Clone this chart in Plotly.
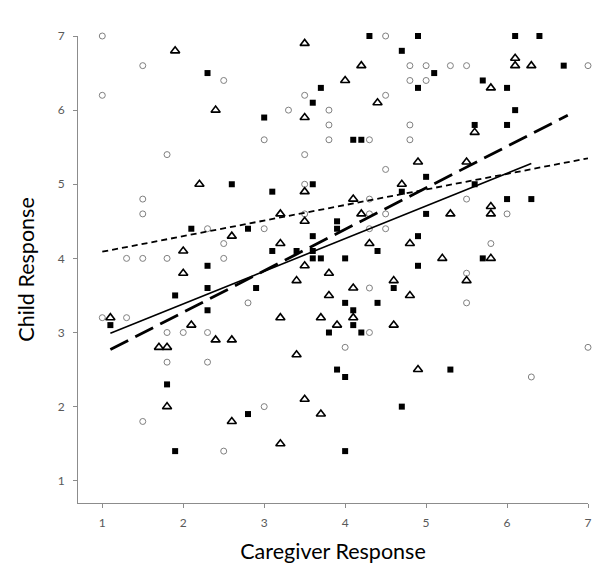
import plotly.graph_objects as go

# Open circles (gray)
circle_x = [1.0, 1.5, 2.5, 1.0, 3.0, 1.8, 4.5, 4.8, 5.0, 5.3, 5.5, 7.0, 4.8, 5.0, 3.5, 4.5, 3.3, 3.8,
            3.8, 4.8, 3.8, 4.3, 4.8, 3.5, 4.5, 3.5, 1.5, 1.5, 2.3, 3.0, 2.5, 1.3, 1.5, 1.8, 2.5, 2.8,
            1.0, 1.3, 1.8, 2.0, 2.3, 4.3, 3.5, 4.3, 4.5, 4.3, 4.5, 4.3, 4.3, 4.0, 5.5, 6.0, 5.8, 5.5,
            5.5, 7.0, 1.8, 2.3, 3.0, 1.5, 2.5, 6.3]
circle_y = [7.0, 6.6, 6.4, 6.2, 5.6, 5.4, 7.0, 6.6, 6.6, 6.6, 6.6, 6.6, 6.4, 6.4, 6.2, 6.2, 6.0, 6.0,
            5.8, 5.8, 5.6, 5.6, 5.6, 5.4, 5.2, 5.0, 4.8, 4.6, 4.4, 4.4, 4.2, 4.0, 4.0, 4.0, 4.0, 3.4,
            3.2, 3.2, 3.0, 3.0, 3.0, 4.8, 4.6, 4.6, 4.6, 4.4, 4.4, 3.6, 3.0, 2.8, 4.8, 4.6, 4.2, 3.8,
            3.4, 2.8, 2.6, 2.6, 2.0, 1.8, 1.4, 2.4]

# Open triangles
tri_x = [1.9, 2.4, 2.2, 3.5, 4.2, 4.0, 4.4, 3.5, 4.9, 4.7, 3.5, 6.1, 6.1, 6.3, 5.8, 5.6, 5.5,
         2.6, 2.0, 2.0, 1.1, 2.1, 2.4, 2.6, 1.7, 1.8, 4.1, 3.2, 4.2, 5.3, 3.5, 3.2, 4.3, 4.8,
         5.2, 3.5, 3.8, 3.4, 4.1, 4.6, 3.8, 4.8, 3.2, 3.7, 4.1, 3.9, 4.6, 5.8, 5.8, 5.8, 5.5,
         1.8, 2.6, 3.4, 4.9, 3.5, 3.7, 3.2]
tri_y = [6.8, 6.0, 5.0, 6.9, 6.6, 6.4, 6.1, 5.9, 5.3, 5.0, 4.9, 6.7, 6.6, 6.6, 6.3, 5.7, 5.3,
         4.3, 4.1, 3.8, 3.2, 3.1, 2.9, 2.9, 2.8, 2.8, 4.8, 4.6, 4.6, 4.6, 4.5, 4.2, 4.2, 4.2,
         4.0, 3.9, 3.8, 3.7, 3.6, 3.7, 3.5, 3.5, 3.2, 3.2, 3.2, 3.1, 3.1, 4.7, 4.6, 4.0, 3.7,
         2.0, 1.8, 2.7, 2.5, 2.1, 1.9, 1.5]

# Filled squares
sq_x = [2.3, 3.0, 2.6, 4.3, 4.9, 4.7, 5.1, 3.7, 4.9, 3.6, 4.1, 4.2, 5.0, 3.6, 4.7,
        6.1, 6.4, 6.7, 5.7, 6.0, 6.1, 5.6, 6.0, 5.6,
        3.1, 2.1, 2.8, 3.1, 2.3, 2.3, 2.9, 1.9, 2.3, 1.1,
        5.0, 3.9, 3.9, 3.6, 4.9, 3.4, 3.6, 4.4, 3.6, 3.7, 4.0, 4.9, 4.6, 4.0, 4.4, 4.1, 4.1, 3.8, 4.2,
        6.0, 6.3, 5.7, 1.8, 2.8, 1.9, 3.9, 4.0, 5.3, 4.7, 4.0]
sq_y = [6.5, 5.9, 5.0, 7.0, 7.0, 6.8, 6.5, 6.3, 6.3, 6.1, 5.6, 5.6, 5.1, 5.0, 4.9,
        7.0, 7.0, 6.6, 6.4, 6.3, 6.0, 5.8, 5.8, 5.0,
        4.9, 4.4, 4.4, 4.1, 3.9, 3.6, 3.6, 3.5, 3.3, 3.1,
        4.6, 4.5, 4.4, 4.3, 4.3, 4.1, 4.1, 4.1, 4.0, 4.0, 4.0, 3.9, 3.6, 3.4, 3.4, 3.3, 3.1, 3.0, 3.0,
        4.8, 4.8, 4.0, 2.3, 1.9, 1.4, 2.5, 2.4, 2.5, 2.0, 1.4]

# Trend lines (endpoints)
trend_circle_x = [1.0, 7.0]
trend_circle_y = [4.09, 5.35]
trend_tri_x = [1.1, 6.3]
trend_tri_y = [2.99, 5.28]
trend_sq_x = [1.1, 6.75]
trend_sq_y = [2.77, 5.93]

x_ticks = [1, 2, 3, 4, 5, 6, 7]
y_ticks = [1, 2, 3, 4, 5, 6, 7]

fig = go.Figure()
fig.add_trace(go.Scatter(x=circle_x, y=circle_y, mode="markers",
                         marker=dict(symbol="circle-open", size=6, color="#808080", line=dict(width=1)),
                         cliponaxis=False, showlegend=False))
fig.add_trace(go.Scatter(x=tri_x, y=tri_y, mode="markers",
                         marker=dict(symbol="triangle-up-open", size=8, color="#000000", line=dict(width=1.6)),
                         cliponaxis=False, showlegend=False))
fig.add_trace(go.Scatter(x=sq_x, y=sq_y, mode="markers",
                         marker=dict(symbol="square", size=6, color="#000000", line=dict(width=0)),
                         cliponaxis=False, showlegend=False))
fig.add_trace(go.Scatter(x=trend_circle_x, y=trend_circle_y, mode="lines",
                         line=dict(color="#000000", width=1.8, dash="6px,4px"), showlegend=False))
fig.add_trace(go.Scatter(x=trend_tri_x, y=trend_tri_y, mode="lines",
                         line=dict(color="#000000", width=1.6), showlegend=False))
fig.add_trace(go.Scatter(x=trend_sq_x, y=trend_sq_y, mode="lines",
                         line=dict(color="#000000", width=2.8, dash="20px,8px"), showlegend=False))

axis_common = dict(
    showgrid=False, zeroline=False, showline=True, linecolor="#8c8c8c", linewidth=1,
    ticks="outside", ticklen=4, tickcolor="#8c8c8c", automargin=False,
    tickfont=dict(family="Lato, sans-serif", size=12, color="#595959"),
)
fig.update_xaxes(range=[0.7, 7], tickvals=x_ticks, ticktext=[str(v) for v in x_ticks],
                 ticklabelstandoff=5,
                 title=dict(text="Caregiver Response", standoff=14,
                            font=dict(family="Lato, sans-serif", size=21.5, color="#000000")),
                 **axis_common)
fig.update_yaxes(range=[0.7, 7], tickvals=y_ticks, ticktext=[str(v) for v in y_ticks],
                 ticklabelstandoff=6,
                 title=dict(text="Child Response", standoff=17,
                            font=dict(family="Lato, sans-serif", size=21.5, color="#000000")),
                 **axis_common)
fig.update_layout(width=600, height=568, plot_bgcolor="white", paper_bgcolor="white",
                  margin=dict(l=78, r=12, t=36, b=65))
fig.write_html("out.html", config={"displayModeBar": False},
               post_script="document.body.style.margin='0';document.body.style.padding='0';")
